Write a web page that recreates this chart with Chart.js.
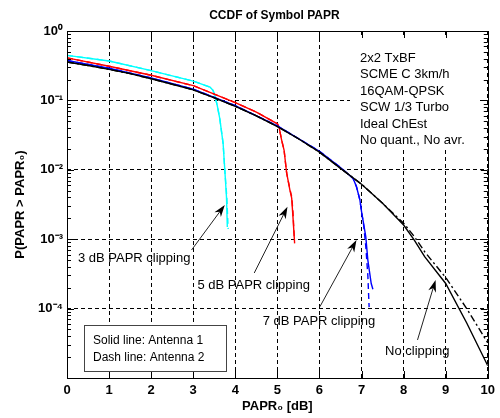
<!DOCTYPE html>
<html>
<head>
<meta charset="utf-8">
<script src="https://cdn.jsdelivr.net/npm/chart.js@4.4.1/dist/chart.umd.min.js"></script>
<style>
  body { margin: 0; background: #fff; }
  #wrap { width: 500px; height: 418px; }
</style>
</head>
<body>
<div id="wrap"><canvas id="papr" width="500" height="418"></canvas></div>
<script>
// values (x = PAPR0 in dB, y = probability)
const noClipX = [0, 0.5, 1, 1.5, 2, 2.5, 3, 3.5, 4, 4.5, 5, 5.5, 6, 6.5, 7, 7.5, 8, 8.25, 8.5, 9, 9.5, 10];
const noClipAnt1 = [0.357, 0.318, 0.28, 0.243, 0.205, 0.171, 0.142, 0.109, 0.082, 0.06, 0.042, 0.028, 0.018, 0.0105, 0.0062, 0.0033, 0.0016, 0.00098, 0.00056, 0.00023, 0.000062, 0.000015];
const noClipAnt2 = [0.357, 0.318, 0.28, 0.243, 0.205, 0.171, 0.142, 0.109, 0.082, 0.06, 0.042, 0.028, 0.018, 0.0105, 0.0062, 0.0033, 0.0017, 0.0011, 0.00066, 0.00028, 0.0001, 0.000032];

const clip7X = [0, 1, 2, 3, 4, 5, 6, 6.5, 6.8, 6.88, 6.96, 7.0, 7.1, 7.15, 7.23, 7.27];
const clip7Ant1 = [0.375, 0.29, 0.21, 0.145, 0.084, 0.043, 0.0185, 0.0108, 0.0075, 0.0057, 0.0037, 0.0025, 0.0011, 0.0005, 0.00023, 0.00019];
const clip7X2 = [0, 1, 2, 3, 4, 5, 6, 6.5, 6.8, 6.88, 6.96, 7.0, 7.05, 7.1, 7.15, 7.18];
const clip7Ant2 = [0.375, 0.29, 0.21, 0.145, 0.084, 0.043, 0.0185, 0.0108, 0.0075, 0.0057, 0.0037, 0.0025, 0.0016, 0.0008, 0.0003, 0.000105];

const clip5X = [0, 1, 2, 3, 4, 4.5, 5, 5.04, 5.1, 5.16, 5.22, 5.3, 5.34, 5.37, 5.41];
const clip5Ant1 = [0.41, 0.31, 0.23, 0.163, 0.093, 0.068, 0.046, 0.041, 0.027, 0.019, 0.009, 0.005, 0.0039, 0.0021, 0.00087];
const clip5X2 = [0, 1, 2, 3, 4, 4.5, 5, 5.04, 5.1, 5.16, 5.22, 5.3, 5.34, 5.37, 5.4];
const clip5Ant2 = [0.41, 0.31, 0.23, 0.163, 0.093, 0.068, 0.046, 0.041, 0.027, 0.019, 0.009, 0.0052, 0.0041, 0.0025, 0.0011];

const clip3X = [0, 1, 2, 3, 3.4, 3.47, 3.51, 3.57, 3.63, 3.71, 3.75, 3.79, 3.81];
const clip3Ant1 = [0.446, 0.37, 0.268, 0.19, 0.155, 0.14, 0.12, 0.085, 0.055, 0.024, 0.01, 0.0041, 0.0015];
const clip3X2 = [0, 1, 2, 3, 3.4, 3.47, 3.51, 3.57, 3.63, 3.71, 3.75, 3.8, 3.83];
const clip3Ant2 = [0.446, 0.37, 0.268, 0.19, 0.155, 0.14, 0.12, 0.085, 0.055, 0.024, 0.01, 0.0039, 0.0014];

const decades = [1e-5, 1e-4, 1e-3, 1e-2, 1e-1, 1];

const infoLines = ['2x2 TxBF', 'SCME C 3km/h', '16QAM-QPSK', 'SCW 1/3 Turbo', 'Ideal ChEst', 'No quant., No avr.'];
const legendLines = ['Solid line: Antenna 1', 'Dash line: Antenna 2'];

// annotations in data units: label left/centre, arrow start, arrow tip (log10 for y)
const notes = [
    { text: '3 dB PAPR clipping', tx: 0.26, ty: -3.27, fx: 2.96, fy: -3.156, hx: 3.75, hy: -2.507 },
    { text: '5 dB PAPR clipping', tx: 3.10, ty: -3.66, fx: 4.45, fy: -3.487, hx: 5.24, hy: -2.532 },
    { text: '7 dB PAPR clipping', tx: 4.65, ty: -4.19, fx: 6.01, fy: -3.973, hx: 6.88, hy: -3.012 },
    { text: 'No clipping', tx: 7.56, ty: -4.62, fx: 8.33, fy: -4.452, hx: 8.76, hy: -3.588 }
];

function pts(xs, ys) {
    let out = [];
    for (let i = 0; i < xs.length; i++) {
        out.push({ x: xs[i], y: ys[i] });
    }
    return out;
}

function serie(xs, ys, color, dash) {
    return {
        data: pts(xs, ys),
        borderColor: color,
        borderWidth: 1.4,
        borderDash: dash,
        pointRadius: 0,
        tension: 0,
        fill: false
    };
}

const sup = { '0': '\u2070', '1': '\u00B9', '2': '\u00B2', '3': '\u00B3', '4': '\u2074', '5': '\u2075', '-': '\u207B' };

function arrow(ctx, x0, y0, x1, y1) {
    const ang = Math.atan2(y1 - y0, x1 - x0);
    const len = 12, w = 4;
    ctx.strokeStyle = '#222';
    ctx.lineWidth = 1;
    ctx.beginPath();
    ctx.moveTo(x0, y0);
    ctx.lineTo(x1 - Math.cos(ang) * len * 0.6, y1 - Math.sin(ang) * len * 0.6);
    ctx.stroke();
    ctx.fillStyle = '#000';
    ctx.beginPath();
    ctx.moveTo(x1, y1);
    ctx.lineTo(x1 - Math.cos(ang) * len + Math.sin(ang) * w, y1 - Math.sin(ang) * len - Math.cos(ang) * w);
    ctx.lineTo(x1 - Math.cos(ang) * len * 0.7, y1 - Math.sin(ang) * len * 0.7);
    ctx.lineTo(x1 - Math.cos(ang) * len - Math.sin(ang) * w, y1 - Math.sin(ang) * len + Math.cos(ang) * w);
    ctx.closePath();
    ctx.fill();
}

const decor = {
    id: 'decor',
    beforeDatasetsDraw(chart) {
        const ctx = chart.ctx, a = chart.chartArea;
        // white patch behind the text block (hides the grid there)
        ctx.save();
        ctx.fillStyle = '#fff';
        ctx.fillRect(a.left + 283, a.top + 7, 127, 112);
        ctx.restore();
    },
    afterDatasetsDraw(chart) {
        const ctx = chart.ctx, a = chart.chartArea;
        const xs = chart.scales.x, ys = chart.scales.y;
        ctx.save();

        // minor + major ticks, inside the box
        ctx.strokeStyle = '#000';
        ctx.lineWidth = 1;
        ctx.beginPath();
        for (let d = -5; d < 0; d++) {
            for (let k = 2; k <= 9; k++) {
                const py = Math.round(ys.getPixelForValue(k * Math.pow(10, d))) + 0.5;
                ctx.moveTo(a.left, py); ctx.lineTo(a.left + 4, py);
                ctx.moveTo(a.right, py); ctx.lineTo(a.right - 4, py);
            }
        }
        decades.forEach(v => {
            const py = Math.round(ys.getPixelForValue(v)) + 0.5;
            ctx.moveTo(a.left, py); ctx.lineTo(a.left + 7, py);
            ctx.moveTo(a.right, py); ctx.lineTo(a.right - 7, py);
        });
        for (let v = 0; v <= 10; v++) {
            const px = Math.round(xs.getPixelForValue(v)) + 0.5;
            ctx.moveTo(px, a.top); ctx.lineTo(px, a.top + 7);
            ctx.moveTo(px, a.bottom); ctx.lineTo(px, a.bottom - 7);
        }
        ctx.stroke();

        // frame
        ctx.strokeRect(Math.round(a.left) + 0.5, Math.round(a.top) + 0.5,
            Math.round(a.right - a.left), Math.round(a.bottom - a.top));

        // chart title
        ctx.fillStyle = '#000';
        ctx.font = 'bold 12px "Liberation Sans", Arial, sans-serif';
        ctx.textAlign = 'center';
        ctx.textBaseline = 'middle';
        ctx.fillText('CCDF of Symbol PAPR', (a.left + a.right) / 2 - 3, 16);

        // info text
        ctx.font = '13px "Liberation Sans", Arial, sans-serif';
        ctx.textAlign = 'left';
        infoLines.forEach((t, i) => {
            ctx.fillText(t, a.left + 293, a.top + 27 + i * 16.5);
        });

        // legend box
        ctx.fillStyle = '#fff';
        ctx.fillRect(a.left + 17, a.bottom - 52, 143, 46);
        ctx.strokeStyle = '#444';
        ctx.strokeRect(a.left + 17.5, a.bottom - 52.5, 142, 46);
        ctx.fillStyle = '#000';
        ctx.font = '12px "Liberation Sans", Arial, sans-serif';
        legendLines.forEach((t, i) => {
            ctx.fillText(t, a.left + 26, a.bottom - 37 + i * 17);
        });

        // clipping annotations
        ctx.font = '13px "Liberation Sans", Arial, sans-serif';
        notes.forEach(n => {
            ctx.fillStyle = '#000';
            ctx.fillText(n.text, xs.getPixelForValue(n.tx), ys.getPixelForValue(Math.pow(10, n.ty)));
            arrow(ctx, xs.getPixelForValue(n.fx), ys.getPixelForValue(Math.pow(10, n.fy)),
                xs.getPixelForValue(n.hx), ys.getPixelForValue(Math.pow(10, n.hy)));
        });
        ctx.restore();
    }
};

const tickFont = { family: '"Liberation Sans Narrow", "Liberation Sans", Arial, sans-serif', size: 13, weight: 'bold' };

const ctx = document.getElementById('papr').getContext('2d');
const ccdf = new Chart(ctx, {
    type: 'line',
    data: {
        datasets: [
            serie(noClipX, noClipAnt1, '#000000', []),
            serie(noClipX, noClipAnt2, '#000000', [7, 3, 2, 3]),
            serie(clip7X, clip7Ant1, '#0000ff', []),
            serie(clip7X2, clip7Ant2, '#0000ff', [6, 4]),
            serie(clip5X, clip5Ant1, '#ff0000', []),
            serie(clip5X2, clip5Ant2, '#ff0000', [6, 4]),
            serie(clip3X, clip3Ant1, '#00ffff', []),
            serie(clip3X2, clip3Ant2, '#00ffff', [6, 4])
        ]
    },
    options: {
        responsive: false,
        animation: false,
        devicePixelRatio: 1,
        layout: { padding: { left: 8, top: 31, right: 7, bottom: 0 } },
        plugins: {
            legend: { display: false },
            tooltip: { enabled: false },
            title: { display: false }
        },
        scales: {
            x: {
                type: 'linear',
                min: 0,
                max: 10,
                ticks: { stepSize: 1, color: '#000', font: tickFont, padding: 5, maxRotation: 0 },
                grid: { color: '#000', drawTicks: false, lineWidth: 1 },
                border: { display: false, dash: [4, 3] },
                title: {
                    display: true,
                    text: 'PAPR\u2080 [dB]',
                    color: '#000',
                    font: { family: '"Liberation Sans", Arial, sans-serif', size: 13, weight: 'bold' },
                    padding: { top: 0, bottom: 4 }
                },
                afterFit: function (scale) { scale.height = 40; }
            },
            y: {
                type: 'logarithmic',
                min: 1e-5,
                max: 1,
                afterBuildTicks: function (scale) {
                    scale.ticks = decades.map(v => ({ value: v }));
                },
                ticks: {
                    color: '#000',
                    font: tickFont,
                    padding: 4,
                    autoSkip: false,
                    callback: function (value) {
                        if (value < 5e-5) return '';
                        const e = String(Math.round(Math.log10(value)));
                        return '10' + e.split('').map(c => sup[c]).join('');
                    }
                },
                grid: { color: '#000', drawTicks: false, lineWidth: 1 },
                border: { display: false, dash: [4, 3] },
                title: {
                    display: true,
                    text: 'P(PAPR > PAPR\u2080)',
                    color: '#000',
                    font: { family: '"Liberation Sans", Arial, sans-serif', size: 13, weight: 'bold' },
                    padding: { top: 5, bottom: 0 }
                },
                afterFit: function (scale) { scale.width = 59; }
            }
        }
    },
    plugins: [decor]
});
</script>
</body>
</html>
